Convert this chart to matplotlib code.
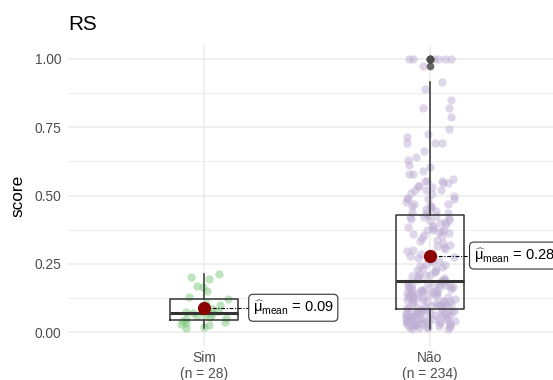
import numpy as np
import matplotlib
matplotlib.use('Agg')
import matplotlib.pyplot as plt

plt.rcParams['font.family'] = ['Liberation Sans', 'DejaVu Sans']
plt.rcParams['mathtext.fontset'] = 'custom'
plt.rcParams['mathtext.rm'] = 'Liberation Sans'
plt.rcParams['mathtext.it'] = 'Liberation Sans'
plt.rcParams['mathtext.bf'] = 'Liberation Sans:bold'

# groups and scores
groups = ['Sim', 'Não']
colors = ['#7FC97F', '#BEAED4']

score_sim = [
    0.016, 0.020, 0.025, 0.030, 0.034, 0.038, 0.042,
    0.046, 0.050, 0.055, 0.058, 0.062, 0.066, 0.069,
    0.073, 0.078, 0.085, 0.092, 0.100, 0.108, 0.120,
    0.128, 0.150, 0.165, 0.170, 0.195, 0.200, 0.213,
]

score_nao = [
    0.012, 0.012, 0.014, 0.015, 0.017, 0.018, 0.020, 0.021, 0.022, 0.024,
    0.025, 0.026, 0.028, 0.029, 0.030, 0.031, 0.033, 0.034, 0.035, 0.036,
    0.038, 0.039, 0.040, 0.041, 0.042, 0.044, 0.045, 0.046, 0.047, 0.048,
    0.050, 0.051, 0.052, 0.053, 0.055, 0.056, 0.057, 0.058, 0.060, 0.061,
    0.062, 0.063, 0.065, 0.066, 0.067, 0.068, 0.070, 0.071, 0.072, 0.073,
    0.074, 0.075, 0.076, 0.077, 0.078, 0.079, 0.080, 0.082, 0.083,
    0.087, 0.089, 0.090, 0.092, 0.094, 0.095, 0.097, 0.099, 0.100, 0.102,
    0.104, 0.105, 0.107, 0.109, 0.110, 0.112, 0.114, 0.115, 0.117, 0.119,
    0.120, 0.122, 0.124, 0.125, 0.127, 0.129, 0.130, 0.132, 0.134, 0.135,
    0.137, 0.139, 0.140, 0.142, 0.144, 0.145, 0.147, 0.149, 0.150, 0.152,
    0.154, 0.155, 0.157, 0.159, 0.160, 0.162, 0.164, 0.165, 0.167, 0.169,
    0.170, 0.172, 0.174, 0.176, 0.178, 0.180, 0.182, 0.185,
    0.189, 0.192, 0.195, 0.198, 0.200, 0.204, 0.207, 0.210, 0.214, 0.218,
    0.222, 0.226, 0.230, 0.234, 0.238, 0.242, 0.246, 0.250, 0.255, 0.260,
    0.265, 0.270, 0.275, 0.280, 0.285, 0.290, 0.295, 0.300, 0.305, 0.310,
    0.315, 0.320, 0.326, 0.332, 0.338, 0.344, 0.350, 0.354, 0.358, 0.362,
    0.366, 0.370, 0.372, 0.372, 0.375, 0.380, 0.385, 0.390, 0.395, 0.400,
    0.404, 0.408, 0.410, 0.414, 0.418, 0.420, 0.422, 0.425, 0.430,
    0.437, 0.437, 0.440, 0.445, 0.450, 0.455, 0.462, 0.462, 0.462, 0.470,
    0.470, 0.475, 0.486, 0.486, 0.486, 0.490, 0.500, 0.505, 0.510, 0.520,
    0.520, 0.520, 0.530, 0.535, 0.535, 0.547, 0.547, 0.553, 0.553, 0.553,
    0.560, 0.577, 0.577, 0.590, 0.605, 0.610, 0.629, 0.640, 0.662, 0.692,
    0.692, 0.692, 0.713, 0.725, 0.743, 0.787, 0.820, 0.820, 0.848, 0.889,
    0.917, 0.975, 1.000, 1.000, 1.000, 1.000, 1.000, 1.000,
]

scores = [np.array(score_sim), np.array(score_nao)]
label_dx = [0.20, 0.177]  # gap between group centre and its mean label

W, H = 553, 380
fig = plt.figure(figsize=(W / 100, H / 100), dpi=100)
ax = fig.add_axes([68.4 / W, 1 - 345.65 / H, 497.2 / W, 300.3 / H])

ax.set_xlim(0.4, 2.6)
ax.set_ylim(-0.05, 1.05)
for s in ax.spines.values():
    s.set_visible(False)

ax.set_yticks([0, 0.25, 0.5, 0.75, 1.0])
ax.set_yticklabels(['0.00', '0.25', '0.50', '0.75', '1.00'])
ax.set_yticks([0.125, 0.375, 0.625, 0.875], minor=True)
ax.set_xticks([1, 2])
ax.set_xticklabels(['%s\n(n = %d)' % (g, len(v)) for g, v in zip(groups, scores)])
ax.tick_params(axis='both', which='both', length=0, labelsize=9.9,
               labelcolor='#4D4D4D')
ax.tick_params(axis='y', pad=5)
ax.tick_params(axis='x', pad=4)
ax.grid(True, which='major', color='#EBEBEB', lw=1.1)
ax.grid(True, which='minor', axis='y', color='#EBEBEB', lw=0.6)
ax.set_axisbelow(True)

# jittered raw points (horizontal jitter only)
rng = np.random.default_rng(11)
for i, (vals, c) in enumerate(zip(scores, colors)):
    dx = rng.uniform(-0.11, 0.11, len(vals))
    ax.scatter(i + 1 + dx, vals, s=36, color=c, alpha=0.5, lw=0, zorder=2)

line_c = '#333333'
ax.boxplot(scores, positions=[1, 2], widths=0.3, whis=1.5, manage_ticks=False,
           boxprops=dict(color=line_c, lw=1.1),
           whiskerprops=dict(color=line_c, lw=1.1),
           capprops=dict(lw=0),
           medianprops=dict(color=line_c, lw=2.2),
           flierprops=dict(marker='o', markersize=5.5, markerfacecolor='#4D4D4D',
                           markeredgecolor='none', alpha=0.85),
           zorder=3)

# means with labels
for i, vals in enumerate(scores):
    m = vals.mean()
    x0 = i + 1
    ax.plot([x0, x0 + label_dx[i]], [m, m], color='black', lw=0.8,
            ls=(0, (3.5, 1.5, 1, 1.5)), zorder=4)
    ax.scatter([x0], [m], s=90, color='#8B0000', lw=0, zorder=5)
    ax.text(x0 + label_dx[i] + 0.016, m,
            r'$\widehat{\mu}_{\mathrm{mean}}$ = %.2f' % m,
            ha='left', va='center', fontsize=10.5, color='black', zorder=6,
            bbox=dict(boxstyle='round,pad=0.28,rounding_size=0.3', fc='white',
                      ec='#333333', lw=0.8))

fig.text(18 / W, 1 - 195.5 / H, 'score', rotation=90, ha='center', va='center',
         fontsize=12.4, color='black')
fig.text(68.4 / W, 1 - 24 / H, 'RS', ha='left', va='center', fontsize=14.9,
         color='black')

fig.savefig('out.png', dpi=100)
